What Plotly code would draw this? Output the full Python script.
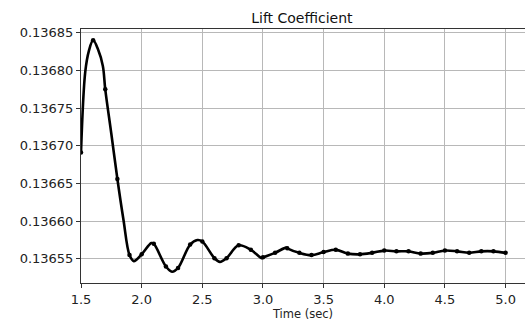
import plotly.graph_objects as go

# Sampled values (markers every 0.1 s)
t_marks = [1.5, 1.6, 1.7, 1.8, 1.9, 2.0, 2.1, 2.2, 2.3, 2.4, 2.5, 2.6, 2.7, 2.8, 2.9,
           3.0, 3.1, 3.2, 3.3, 3.4, 3.5, 3.6, 3.7, 3.8, 3.9, 4.0, 4.1, 4.2, 4.3, 4.4,
           4.5, 4.6, 4.7, 4.8, 4.9, 5.0]
cl_marks = [0.136691, 0.136840, 0.136775, 0.136656, 0.136555, 0.136556, 0.136570, 0.136540,
            0.136538, 0.136569, 0.136573, 0.136551, 0.136551, 0.136568, 0.136562, 0.136552,
            0.136558, 0.136564, 0.136558, 0.136555, 0.136559, 0.136562, 0.136557, 0.136556,
            0.136558, 0.136561, 0.136560, 0.136560, 0.136557, 0.136558, 0.136561, 0.136560,
            0.136558, 0.136560, 0.136560, 0.136558]

# Additional values (peaks / troughs)
t_extra = [1.535, 1.565, 1.64, 1.68, 1.75, 1.85, 1.935, 2.08, 2.25, 2.46, 2.645, 2.80, 2.99, 3.19]
cl_extra = [0.136798, 0.136826, 0.136828, 0.136806, 0.136716, 0.136602, 0.136547, 0.136571,
            0.136533, 0.136575, 0.136546, 0.136569, 0.136551, 0.136565]

merged = {}
for t, c in zip(t_marks, cl_marks):
    merged[round(t, 3)] = c
for t, c in zip(t_extra, cl_extra):
    merged.setdefault(round(t, 3), c)
t_line = sorted(merged)
cl_line = [merged[t] for t in t_line]

y_ticks = [0.13655, 0.13660, 0.13665, 0.13670, 0.13675, 0.13680, 0.13685]
x_ticks = [1.5, 2.0, 2.5, 3.0, 3.5, 4.0, 4.5, 5.0]

fig = go.Figure()
fig.add_trace(go.Scatter(x=t_line, y=cl_line, mode="lines",
                         line=dict(color="black", width=2.6, shape="spline", smoothing=1.0),
                         hoverinfo="skip", showlegend=False))
fig.add_trace(go.Scatter(x=t_marks, y=cl_marks, mode="markers",
                         marker=dict(color="black", size=4.5),
                         showlegend=False))

font = "DejaVu Sans, sans-serif"
fig.update_layout(
    width=525, height=322,
    margin=dict(l=81, r=0, t=29, b=39),
    paper_bgcolor="white", plot_bgcolor="white",
    font=dict(family=font, size=13, color="#222"),
    title=dict(text="Lift Coefficient", x=0.575, xanchor="center", y=0.945, yanchor="middle",
               font=dict(family=font, size=14, color="#111")),
)
fig.update_xaxes(range=[1.5, 5.16], tickvals=x_ticks, ticktext=[f"{v:.1f}" for v in x_ticks],
                 showgrid=True, gridcolor="#b8b8b8", gridwidth=1,
                 showline=True, linecolor="#333", linewidth=1, mirror=True,
                 ticks="outside", ticklen=4, tickcolor="#333",
                 title=dict(text="Time (sec)", standoff=2, font=dict(size=11.5)),
                 tickfont=dict(size=13), zeroline=False)
fig.update_yaxes(range=[0.136518, 0.136855], tickvals=y_ticks,
                 ticktext=[f"{v:.5f}" for v in y_ticks],
                 showgrid=True, gridcolor="#b8b8b8", gridwidth=1,
                 showline=True, linecolor="#333", linewidth=1,
                 ticks="outside", ticklen=4, tickcolor="#333",
                 tickfont=dict(size=13), zeroline=False)

fig.write_html("out.html")
